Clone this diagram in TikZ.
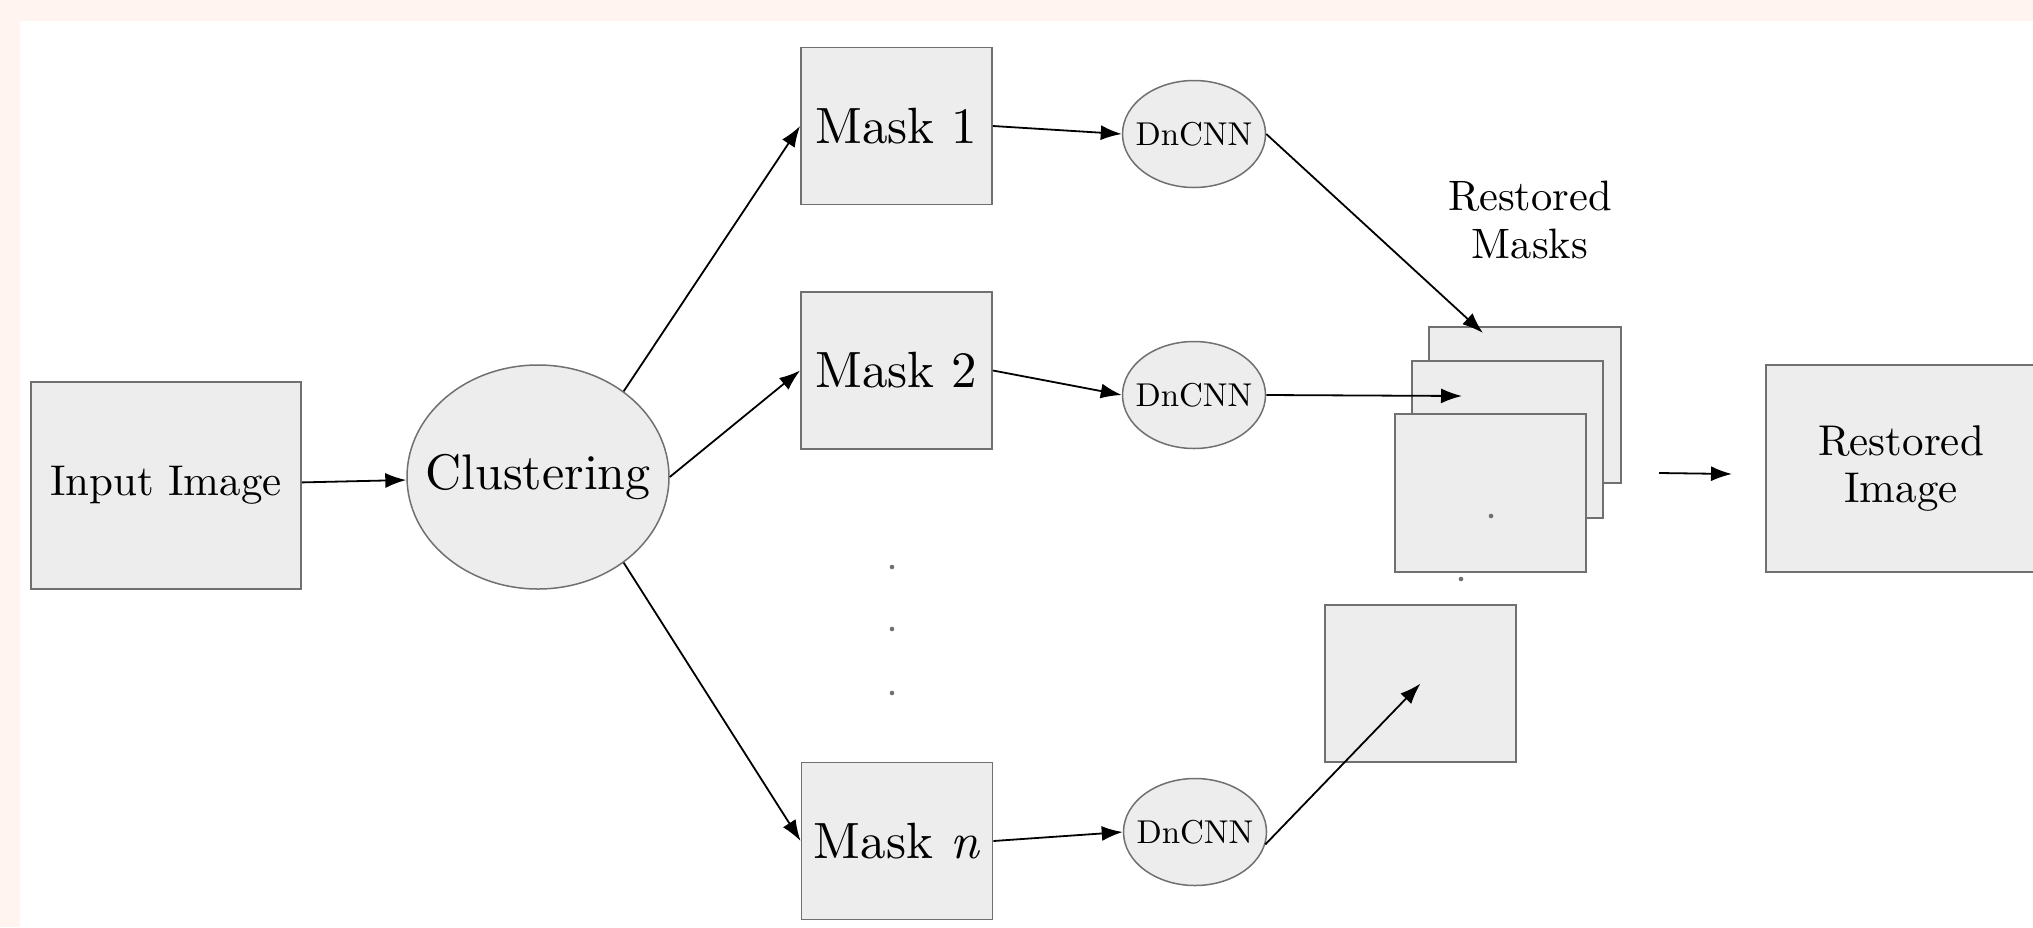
\documentclass[tikz,border=0pt]{standalone}
\usepackage{fontspec}
\setmainfont{lmroman10}[Extension=.otf, UprightFont=*-regular, ItalicFont=*-italic, BoldFont=*-bold]
\usetikzlibrary{arrows.meta, shapes.geometric}

\definecolor{page pink}{RGB}{255,244,240}
\definecolor{box fill}{RGB}{237,237,237}
\definecolor{box edge}{RGB}{112,112,112}

\begin{document}
\begin{tikzpicture}
[x=1pt, y=-1pt, every node/.style={color=black}, box/.style={rectangle, draw=box edge, fill=box fill, line width=1.8pt, inner sep=0pt}, mask box/.style={box, minimum width=191pt, minimum height=157pt, font=\fontsize{51}{60}\selectfont}, net/.style={ellipse, draw=box edge, fill=box fill, line width=1.5pt, inner sep=0pt, inner xsep=-12pt, minimum width=143pt, minimum height=107pt, font=\fontsize{33}{38}\selectfont}, flow line/.style={-{Latex[length=21pt, width=15pt]}, line width=1.8pt}]
    \fill[page pink] (0,0) rectangle (2033,927);
    \fill[white] (20,21) rectangle (2033,927);
    \useasboundingbox (0,0) rectangle (2033,927);
    \node[box, minimum width=270pt, minimum height=207pt, font=\fontsize{43}{50}\selectfont] (input) at (166,485.5) {Input Image};
    \node[ellipse, draw=box edge, fill=box fill, line width=1.5pt, inner sep=0pt, inner xsep=-28pt, minimum width=262pt, minimum height=224pt, font=\fontsize{50}{58}\selectfont] (cluster) at (538,477) {Clustering};
    \node[mask box] (mask1) at (896.5,126) {Mask 1};
    \node[mask box] (mask2) at (896.5,370.5) {Mask 2};
    \node[mask box] (maskn) at (897,841) {Mask \textit{n}};
    \node[net] (dn1) at (1194,134) {DnCNN};
    \node[net] (dn2) at (1194,395) {DnCNN};
    \node[net] (dnn) at (1195,832) {DnCNN};
    % restored masks, stacked
    \node[box, minimum width=192pt, minimum height=156pt] (back) at (1525,405) {};
    \node[box, minimum width=191pt, minimum height=157pt] (mid) at (1507.5,439.5) {};
    \node[box, minimum width=191pt, minimum height=158pt] (front) at (1490.5,493) {};
    \node[box, minimum width=191pt, minimum height=157pt] (lone) at (1420.5,683.5) {};
    \node[align=center, font=\fontsize{42.5}{48}\selectfont] (rmlabel) at (1530,220) {Restored\\Masks};
    \node[box, minimum width=270pt, minimum height=207pt, align=center, font=\fontsize{43}{47}\selectfont] (restored) at (1901,468.5) {Restored\\Image};
    \coordinate (in1) at (1483,333);
    \coordinate (in2) at (1462,396);
    \coordinate (stackout) at (1659,473);
    \coordinate (imgin) at (1732,474);
    \foreach \y in {567,629,693} \fill[box edge] (892,\y) circle (2.3pt);
    \fill[box edge] (1491,516) circle (2.3pt);
    \fill[box edge] (1461,579) circle (2.3pt);
    \draw[flow line] (input) -- (cluster);
    \draw[flow line] (cluster.45) -- (mask1.west);
    \draw[flow line] (cluster.east) -- (mask2.west);
    \draw[flow line] (cluster.-45) -- (maskn.west);
    \draw[flow line] (mask1.east) -- (dn1.west);
    \draw[flow line] (mask2.east) -- (dn2.west);
    \draw[flow line] (maskn.east) -- (dnn.west);
    \draw[flow line] (dn1.east) -- (in1);
    \draw[flow line] (dn2.east) -- (in2);
    \draw[flow line] (dnn.-10) -- (lone.center);
    \draw[flow line] (stackout) -- (imgin);
\end{tikzpicture}
\end{document}
